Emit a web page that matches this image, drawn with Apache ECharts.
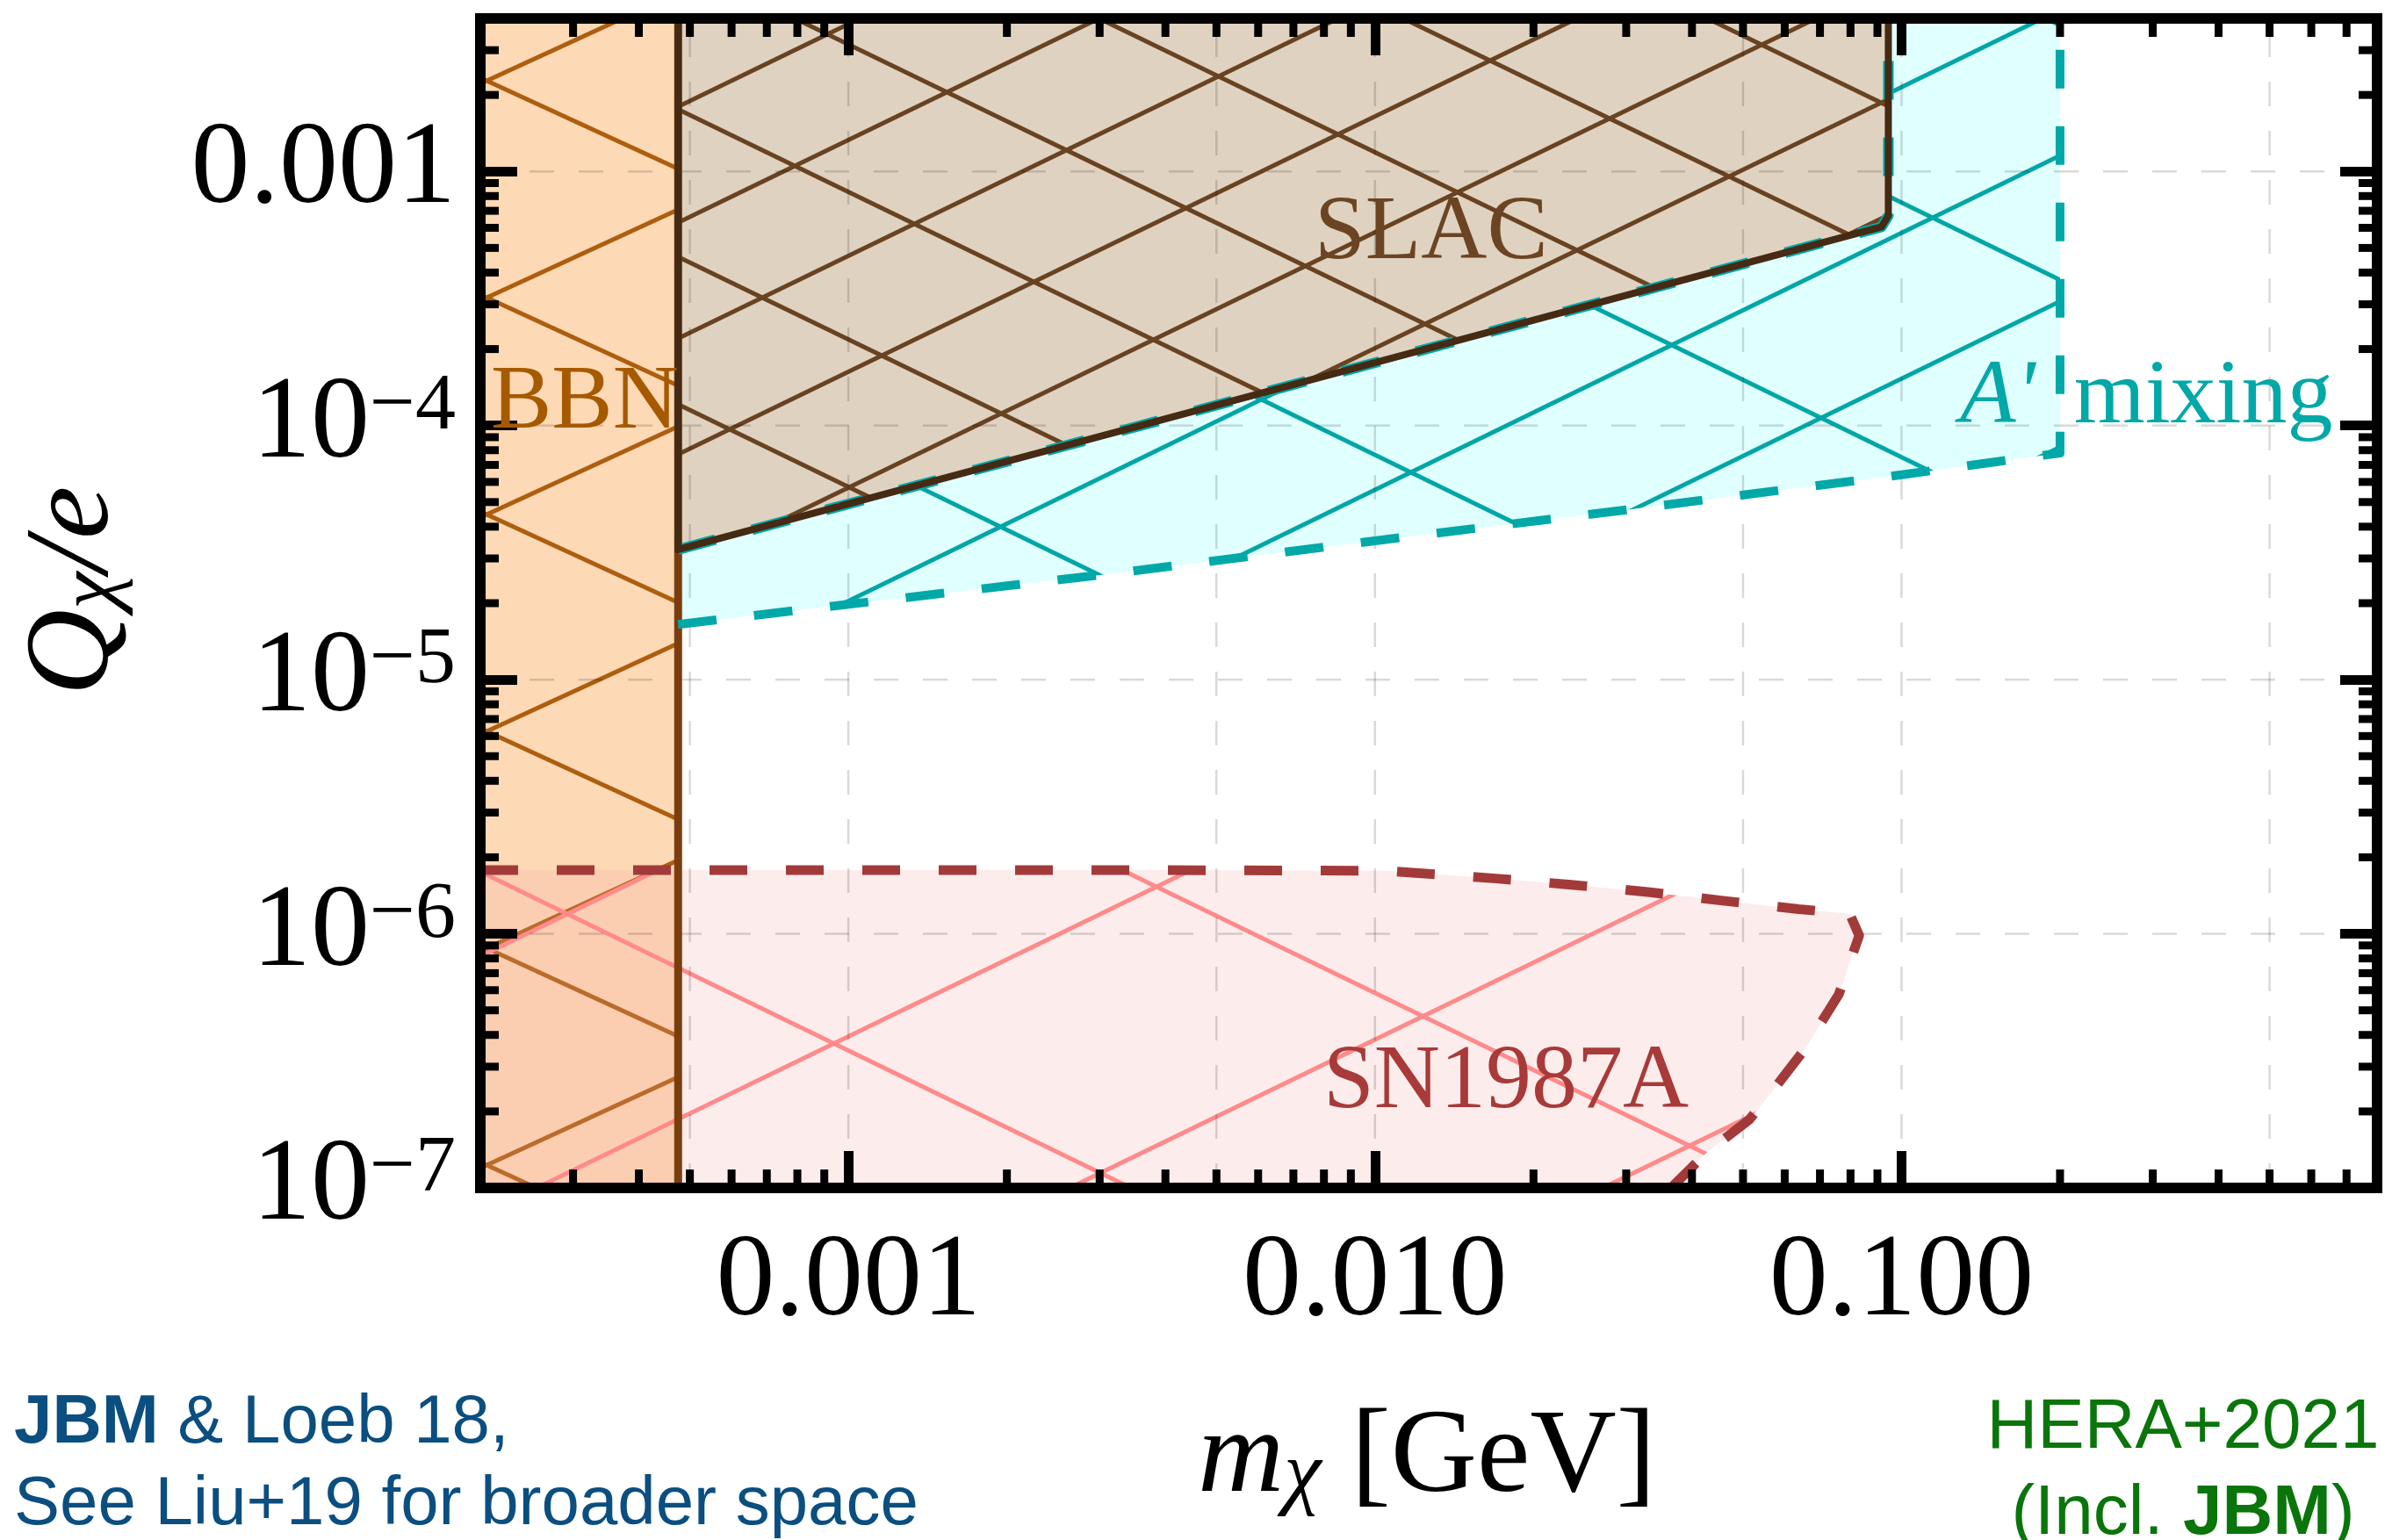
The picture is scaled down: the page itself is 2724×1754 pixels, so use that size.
<!DOCTYPE html>
<html><head><meta charset="utf-8">
<script src="https://cdn.jsdelivr.net/npm/echarts@6/dist/echarts.min.js"></script>
<style>html,body{margin:0;padding:0;background:#fff;}#c{width:2724px;height:1754px;}</style>
</head><body><div id="c"></div>
<script>
const W = 2724, H = 1754;
// ---- axes ----
const xMin = 2e-4, xMax = 0.8, yMin = 1e-7, yMax = 4e-3;
const xTickValues = [0.001, 0.01, 0.1];
const xTickLabels = ['0.001', '0.010', '0.100'];
const yTickValues = [1e-7, 1e-6, 1e-5, 1e-4, 1e-3];
const yTickBase = ['10', '10', '10', '10', '0.001'];
const yTickExp = ['\u22127', '\u22126', '\u22125', '\u22124', ''];
const xGridValues = [5e-4, 1e-3, 5e-3, 1e-2, 5e-2, 0.1, 0.5];
const yGridValues = [1e-6, 1e-5, 1e-4, 1e-3];
const minorMultipliers = [2, 3, 4, 5, 6, 7, 8, 9];
const decades = [1e-8, 1e-7, 1e-6, 1e-5, 1e-4, 1e-3, 1e-2, 1e-1, 1];

// ---- regions (m_chi [GeV], Q_chi/e) ----
const bbnMass = [2e-4, 4.75e-4, 4.75e-4, 2e-4];
const bbnQ = [1e-7, 1e-7, 4e-3, 4e-3];
const bbnEdgeMass = [4.75e-4, 4.75e-4];
const bbnEdgeQ = [1e-7, 4e-3];

const slacMass = [4.75e-4, 4.75e-4, 0.0916, 0.0944, 0.0944];
const slacQ = [4e-3, 3.25e-5, 6.05e-4, 6.7e-4, 4e-3];

const mixMass = [4.75e-4, 1e-3, 3e-3, 0.01, 0.03, 0.1, 0.2, 0.2];
const mixQ = [1.65e-5, 1.98e-5, 2.58e-5, 3.52e-5, 4.66e-5, 6.4e-5, 7.8e-5, 4e-3];
const mixCloseMass = [4.75e-4];
const mixCloseQ = [4e-3];

const snMass = [2e-4, 4e-3, 0.0105, 0.017, 0.0236, 0.033, 0.0458, 0.0638, 0.0797, 0.0831, 0.076, 0.0653, 0.056, 0.0513, 0.043, 0.0365];
const snQ = [1.78e-6, 1.78e-6, 1.77e-6, 1.65e-6, 1.56e-6, 1.46e-6, 1.35e-6, 1.25e-6, 1.2e-6, 9.85e-7, 5.77e-7, 3.49e-7, 2.31e-7, 1.85e-7, 1.4e-7, 1e-7];
const snCloseMass = [2e-4];
const snCloseQ = [1e-7];

// ---- styles ----
const serif = 'Liberation Serif';
const sans = 'Liberation Sans';

function makeHatch(o) {
  const cv = document.createElement('canvas');
  cv.width = W; cv.height = H;
  const ctx = cv.getContext('2d');
  ctx.fillStyle = o.bg; ctx.fillRect(0, 0, W, H);
  ctx.strokeStyle = o.color; ctx.lineWidth = o.width;
  ctx.beginPath();
  let c = o.cA - Math.ceil((o.s * W + o.dA) / o.dA) * o.dA;
  for (; c < H + o.dA; c += o.dA) { ctx.moveTo(0, c); ctx.lineTo(W, o.s * W + c); }
  for (let d = o.cB - o.dB; d < H + o.s * W + o.dB; d += o.dB) { ctx.moveTo(0, d); ctx.lineTo(W, -o.s * W + d); }
  ctx.stroke();
  return cv;
}
const hatchBBN = {bg: '#FDD9B5', color: '#AD5E0E', width: 5, s: 0.46, dA: 247, cA: 84, dB: 247, cB: 100};
const hatchSLAC = {bg: '#E0D2C0', color: '#684322', width: 5, s: 0.485, dA: 168, cA: 86, dB: 132, cB: 100};
const hatchMix = {bg: '#E0FFFF', color: '#00A6A6', width: 5, s: 0.488, dA: 290, cA: 44, dB: 166, cB: 160};
const hatchSN = {bg: 'rgba(245,160,160,0.2)', color: '#FF8A8A', width: 5, s: 0.486, dA: 357, cA: 13, dB: 295, cB: 175};

function pairs(ms, qs) { return ms.map((m, i) => [m, qs[i]]); }

function regionSeries(name, ms, qs, cms, cqs, hatch, z) {
  const pts = pairs(ms, qs).concat(pairs(cms, cqs));
  const pattern = {image: makeHatch(hatch), repeat: 'no-repeat'};
  return {
    name: name, type: 'custom', z: z, silent: true, animation: false,
    data: pts,
    renderItem: function (params, api) {
      if (params.dataIndex !== 0) return null;
      return {type: 'polygon', shape: {points: pts.map(p => api.coord(p))}, style: {fill: pattern, stroke: null}};
    }
  };
}

function outline(name, ms, qs, color, width, dash, z) {
  return {
    name: name, type: 'line', z: z, silent: true, animation: false, showSymbol: false, symbol: 'none',
    data: pairs(ms, qs),
    lineStyle: {color: color, width: width, type: dash || 'solid', cap: 'butt', join: 'round'}
  };
}

const xMinor = [], yMinor = [];
decades.forEach(d => minorMultipliers.forEach(k => {
  const v = d * k;
  if (v > xMin * 1.0001 && v < xMax * 0.9999) xMinor.push(v);
  if (v > yMin * 1.0001 && v < yMax * 0.9999) yMinor.push(v);
}));

function findIdx(arr, v) {
  return arr.findIndex(t => Math.abs(Math.log10(t) - Math.log10(v)) < 1e-6);
}

function axis(pos, isX, showLabel) {
  const a = {
    type: 'log', logBase: 10, position: pos, z: 11,
    min: isX ? xMin : yMin, max: isX ? xMax : yMax,
    axisLine: {show: false},
    axisTick: {show: true, inside: true, length: 42, lineStyle: {color: '#000', width: 11}},
    minorTick: {show: false},
    splitLine: {show: false},
    axisLabel: {show: false}
  };
  if (showLabel && isX) {
    a.axisLabel = {
      show: true, margin: 42, fontFamily: serif, fontSize: 134, color: '#000',
      formatter: v => { const i = findIdx(xTickValues, v); return i < 0 ? '' : xTickLabels[i]; }
    };
  } else if (showLabel) {
    a.axisLabel = {
      show: true, margin: 28,
      formatter: v => {
        const i = findIdx(yTickValues, v);
        if (i < 0) return '';
        return yTickExp[i] ? '{b|' + yTickBase[i] + '}{s|' + yTickExp[i] + '}' : '{b|' + yTickBase[i] + '}';
      },
      rich: {
        b: {fontFamily: serif, fontSize: 134, color: '#000'},
        s: {fontFamily: serif, fontSize: 92, color: '#000', lineHeight: 60, verticalAlign: 'top'}
      }
    };
  }
  return a;
}

const gridSeries = {
  type: 'custom', z: 6, silent: true, animation: false, data: [[xMin, yMin]],
  renderItem: function (params, api) {
    const y0 = api.coord([xMin, yMin])[1], y1 = api.coord([xMin, yMax])[1];
    const x0 = api.coord([xMin, yMin])[0], x1 = api.coord([xMax, yMin])[0];
    const st = {stroke: 'rgba(0,0,0,0.15)', lineWidth: 2.5, lineDash: [28, 28]};
    const ch = [];
    xGridValues.forEach(v => { const x = api.coord([v, yMin])[0]; ch.push({type: 'line', shape: {x1: x, y1: y0, x2: x, y2: y1}, style: st}); });
    yGridValues.forEach(v => { const y = api.coord([xMin, v])[1]; ch.push({type: 'line', shape: {x1: x0, y1: y, x2: x1, y2: y}, style: st}); });
    return {type: 'group', children: ch};
  }
};

const minorTickSeries = {
  type: 'custom', z: 12, silent: true, animation: false, data: [[xMin, yMin]],
  renderItem: function (params, api) {
    const y0 = api.coord([xMin, yMin])[1], y1 = api.coord([xMin, yMax])[1];
    const x0 = api.coord([xMin, yMin])[0], x1 = api.coord([xMax, yMin])[0];
    const L = 21, w = 9, st = {fill: '#000'};
    const ch = [];
    xMinor.forEach(v => {
      const x = api.coord([v, yMin])[0];
      ch.push({type: 'rect', shape: {x: x - w / 2, y: y0 - L, width: w, height: L}, style: st});
      ch.push({type: 'rect', shape: {x: x - w / 2, y: y1, width: w, height: L}, style: st});
    });
    yMinor.forEach(v => {
      const y = api.coord([xMin, v])[1];
      ch.push({type: 'rect', shape: {x: x0, y: y - w / 2, width: L, height: w}, style: st});
      ch.push({type: 'rect', shape: {x: x1 - L, y: y - w / 2, width: L, height: w}, style: st});
    });
    return {type: 'group', children: ch};
  }
};

function txt(text, x, y, opts) {
  return Object.assign({type: 'text', x: x, y: y, z: 20, silent: true,
    style: Object.assign({text: text, align: 'left', verticalAlign: 'middle', textAlign: 'left', textVerticalAlign: 'middle'}, opts.style)},
    opts.el || {});
}

const chart = echarts.init(document.getElementById('c'), null, {renderer: 'canvas', devicePixelRatio: 1});
chart.setOption({
  animation: false,
  backgroundColor: '#fff',
  grid: {left: 547, right: 17, top: 21, bottom: 401, show: true, borderColor: '#000', borderWidth: 12, backgroundColor: 'transparent', z: 11, containLabel: false},
  xAxis: [axis('bottom', true, true), axis('top', true, false)],
  yAxis: [axis('left', false, true), axis('right', false, false)],
  series: [
    regionSeries('BBN', bbnMass, bbnQ, [], [], hatchBBN, 2),
    regionSeries('SN1987A', snMass, snQ, snCloseMass, snCloseQ, hatchSN, 3),
    regionSeries("A' mixing", mixMass, mixQ, mixCloseMass, mixCloseQ, hatchMix, 4),
    regionSeries('SLAC', slacMass, slacQ, [], [], hatchSLAC, 5),
    gridSeries,
    outline('BBN edge', bbnEdgeMass, bbnEdgeQ, '#7A3E0E', 9, 'solid', 7),
    outline('SN edge', snMass, snQ, '#A33A3A', 11, [43, 44], 7),
    outline('mix edge', mixMass, mixQ, '#00A8A8', 10, [44, 43], 7),
    outline('mix upper', slacMass.slice(1), slacQ.slice(1), '#00A8A8', 12, [44, 43], 8),
    outline('SLAC edge', slacMass, slacQ, '#452A14', 8, 'solid', 9),
    minorTickSeries
  ],
  graphic: [
    txt('BBN', 559, 460, {style: {fill: '#A65A00', fontFamily: serif, fontSize: 104}}),
    txt('SLAC', 1497, 267, {style: {fill: '#6B4423', fontFamily: serif, fontSize: 104}}),
    txt("{i|A'}{r|mixing}", 2232, 454, {style: {fill: '#00A8A8', fontFamily: serif, fontSize: 104,
      rich: {i: {fontFamily: serif, fontSize: 104, fontStyle: 'italic'}, r: {fontFamily: serif, fontSize: 104, padding: [0, 0, 0, 44]}}}}),
    txt('SN1987A', 1507, 1234, {style: {fill: '#A83A3A', fontFamily: serif, fontSize: 104}}),
    txt('{q|Q}{sub|\u03C7}{q|/e}', 86, 673, {el: {rotation: Math.PI / 2}, style: {fill: '#000', align: 'center', textAlign: 'center',
      rich: {q: {fontFamily: serif, fontSize: 136, fontStyle: 'italic'}, sub: {fontFamily: serif, fontSize: 96, fontStyle: 'italic', lineHeight: 60, verticalAlign: 'bottom'}}}}),
    txt('{m|m}{sub|\u03C7}{r| [GeV]}', 1625, 1662, {style: {fill: '#000', align: 'center', textAlign: 'center',
      rich: {m: {fontFamily: serif, fontSize: 136, fontStyle: 'italic'}, sub: {fontFamily: serif, fontSize: 96, fontStyle: 'italic', lineHeight: 60, verticalAlign: 'bottom'}, r: {fontFamily: serif, fontSize: 136}}}}),
    txt('{b|JBM}{r| & Loeb 18,}', 16, 1621, {style: {fill: '#0B4E80',
      rich: {b: {fontFamily: sans, fontSize: 78, fontWeight: 'bold'}, r: {fontFamily: sans, fontSize: 78}}}}),
    txt('See Liu+19 for broader space', 16, 1714, {style: {fill: '#0B4E80', fontFamily: sans, fontSize: 78}}),
    txt('HERA+2021', 2486, 1627, {style: {fill: '#0A750A', fontFamily: sans, fontSize: 80, align: 'center', textAlign: 'center'}}),
    txt('(Incl. {b|JBM})', 2486, 1725, {style: {fill: '#0A750A', fontFamily: sans, fontSize: 80, align: 'center', textAlign: 'center',
      rich: {b: {fontFamily: sans, fontSize: 80, fontWeight: 'bold'}}}})
  ]
});
</script></body></html>
